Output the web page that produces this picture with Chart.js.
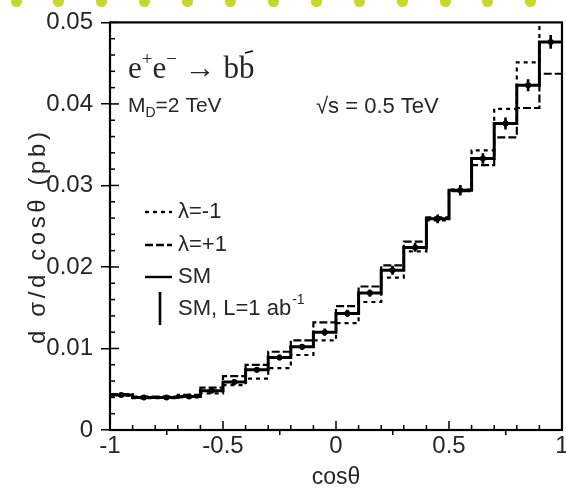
<!DOCTYPE html>
<html>
<head>
<meta charset="utf-8">
<script src="https://cdn.jsdelivr.net/npm/chart.js@4.4.1/dist/chart.umd.min.js"></script>
<style>
html,body{margin:0;padding:0;background:#fff;}
#wrap{position:relative;width:566px;height:491px;overflow:hidden;}
canvas{display:block;}
.dot{position:absolute;width:11px;height:11px;border-radius:50%;background:#c8d72c;top:-4px;}
</style>
</head>
<body>
<div id="wrap"><canvas id="c" width="566" height="491"></canvas></div>
<script>
// ---- data ----
const binEdges = [-1,-0.9,-0.8,-0.7,-0.6,-0.5,-0.4,-0.3,-0.2,-0.1,0,0.1,0.2,0.3,0.4,0.5,0.6,0.7,0.8,0.9,1];
const smValues = [0.0043,0.0040,0.0040,0.0041,0.0048,0.0059,0.0074,0.0089,0.0102,0.0120,0.0143,0.0168,0.0196,0.0224,0.0259,0.0294,0.0333,0.0376,0.0423,0.0476];
const lamPlusValues = [0.0044,0.0041,0.0041,0.0043,0.0052,0.0066,0.0080,0.0096,0.0110,0.0132,0.0152,0.0176,0.0202,0.0231,0.0261,0.0293,0.0325,0.0359,0.0395,0.0437];
const lamMinusValues = [0.0042,0.0039,0.0039,0.0040,0.0045,0.0055,0.0063,0.0076,0.0092,0.0110,0.0131,0.0157,0.0187,0.0219,0.0257,0.0295,0.0343,0.0394,0.0451,0.0520];
const smErrors = [0.0002,0.0002,0.0002,0.0002,0.0002,0.0003,0.0003,0.0003,0.0003,0.0004,0.0004,0.0004,0.0005,0.0005,0.0005,0.0006,0.0006,0.0007,0.0007,0.0008];
const xTickValues = [-1,-0.5,0,0.5,1];
const xTickLabels = ['-1','-0.5','0','0.5','1'];
const yTickValues = [0,0.01,0.02,0.03,0.04,0.05];
const yTickLabels = ['0','0.01','0.02','0.03','0.04','0.05'];
const seriesNames = ['\u03bb=-1','\u03bb=+1','SM','SM, L=1 ab'];
const yTitle = 'd \u03c3/d cos\u03b8 (pb)';
const xTitle = 'cos\u03b8';

// decorative dots at the top
const wrap = document.getElementById('wrap');
for (let k = 0; k < 13; k++) {
  const d = document.createElement('div');
  d.className = 'dot';
  d.style.left = (16 + 42.9 * k - 5.5) + 'px';
  wrap.appendChild(d);
}

function stepData(vals) {
  return binEdges.map((x, i) => ({x: x, y: vals[Math.min(i, vals.length - 1)]}));
}
const centers = smValues.map((v, i) => (binEdges[i] + binEdges[i + 1]) / 2);

const FONT = '"Liberation Sans", Arial, sans-serif';
const TXT = '#262626';

const framePlugin = {
  id: 'frame',
  afterDatasetsDraw(chart) {
    const {ctx, chartArea: a, scales} = chart;
    ctx.save();
    ctx.strokeStyle = '#000';
    ctx.lineWidth = 2.2;
    ctx.strokeRect(a.left, a.top, a.right - a.left, a.bottom - a.top);
    ctx.lineWidth = 1.5;
    const ys = scales.y;
    for (let i = 0; i <= 25; i++) {
      const p = ys.getPixelForValue(i * 0.002);
      const len = (i % 5 === 0) ? 9 : 5;
      ctx.beginPath(); ctx.moveTo(a.left, p); ctx.lineTo(a.left + len, p); ctx.stroke();
    }
    const xs = scales.x;
    for (let i = 0; i <= 20; i++) {
      const p = xs.getPixelForValue(-1 + i * 0.1);
      const len = (i % 5 === 0) ? 9 : 5;
      ctx.beginPath(); ctx.moveTo(p, a.bottom); ctx.lineTo(p, a.bottom - len); ctx.stroke();
    }
    ctx.restore();
  }
};

const annotPlugin = {
  id: 'annot',
  afterDraw(chart) {
    const ctx = chart.ctx;
    ctx.save();
    ctx.fillStyle = TXT;
    ctx.strokeStyle = '#000';
    ctx.textBaseline = 'alphabetic';
    ctx.textAlign = 'left';
    let x = 128, y = 78;
    const big = '31px "Liberation Serif", serif';
    const sup = '19px "Liberation Serif", serif';
    function put(t, f, dy) { ctx.font = f; ctx.fillText(t, x, y + dy); x += ctx.measureText(t).width; }
    put('e', big, 0); put('+', sup, -13); put('e', big, 0); put('\u2212', sup, -13);
    put(' \u2192 ', big, 0); put('b', big, 0);
    const bx = x; put('b', big, 0);
    ctx.lineWidth = 1.6;
    ctx.beginPath(); ctx.moveTo(bx + 6, y - 25); ctx.lineTo(bx + 14, y - 27); ctx.stroke();

    x = 128; y = 112;
    put('M', '21px ' + FONT, 0); put('D', '14px ' + FONT, 5); put('=2 TeV', '21px ' + FONT, 0);
    x = 316; y = 113;
    put('\u221as = 0.5 TeV', '22px ' + FONT, 0);

    ctx.lineWidth = 2.4;
    const lx0 = 145, lx1 = 172;
    const rows = [212, 245, 277];
    const dashes = [[4, 4], [8, 3], []];
    for (let r = 0; r < 3; r++) {
      ctx.setLineDash(dashes[r]);
      ctx.beginPath(); ctx.moveTo(lx0, rows[r]); ctx.lineTo(lx1, rows[r]); ctx.stroke();
    }
    ctx.setLineDash([]);
    ctx.lineWidth = 2.6;
    ctx.beginPath(); ctx.moveTo(160, 292); ctx.lineTo(160, 325); ctx.stroke();
    ctx.textBaseline = 'middle';
    ctx.font = '22px ' + FONT;
    ctx.fillText(seriesNames[0], 178, rows[0]);
    ctx.fillText(seriesNames[1], 178, rows[1]);
    ctx.fillText(seriesNames[2], 178, rows[2]);
    ctx.fillText(seriesNames[3], 178, 309);
    const w = ctx.measureText(seriesNames[3]).width;
    ctx.font = '14px ' + FONT;
    ctx.fillText('-1', 178 + w + 1, 300);

    // y-axis title
    ctx.translate(38, 238);
    ctx.rotate(-Math.PI / 2);
    ctx.font = '24px ' + FONT;
    const plain = ctx.measureText(yTitle).width;
    const sp = Math.max(0, (212 - plain) / (yTitle.length - 1));
    ctx.letterSpacing = sp.toFixed(2) + 'px';
    const wt = ctx.measureText(yTitle).width;
    ctx.textAlign = 'left';
    ctx.textBaseline = 'middle';
    ctx.fillText(yTitle, -wt / 2 + sp / 2, 0);
    ctx.restore();
  }
};

new Chart(document.getElementById('c'), {
  type: 'scatter',
  data: {
    datasets: [
      {
        type: 'bar', label: 'err',
        data: centers.map((c, i) => ({x: c, y: [smValues[i] - smErrors[i], smValues[i] + smErrors[i]]})),
        backgroundColor: '#000', borderWidth: 0, barThickness: 2, order: 0
      },
      {
        type: 'scatter', label: 'SM points',
        data: centers.map((c, i) => ({x: c, y: smValues[i]})),
        pointRadius: 3, pointBackgroundColor: '#000', pointBorderColor: '#000', pointBorderWidth: 0, order: 1
      },
      {
        type: 'line', label: seriesNames[2], data: stepData(smValues), stepped: 'before',
        borderColor: '#000', borderWidth: 3, pointRadius: 0, fill: false, order: 2
      },
      {
        type: 'line', label: seriesNames[1], data: stepData(lamPlusValues), stepped: 'before',
        borderColor: '#000', borderWidth: 2.2, borderDash: [8, 3], pointRadius: 0, fill: false, order: 3
      },
      {
        type: 'line', label: seriesNames[0], data: stepData(lamMinusValues), stepped: 'before',
        borderColor: '#000', borderWidth: 2.2, borderDash: [4, 4], pointRadius: 0, fill: false, order: 4
      }
    ]
  },
  options: {
    responsive: false,
    animation: false,
    devicePixelRatio: 1,
    layout: {padding: {left: 0, right: 3, top: 22, bottom: 0}},
    plugins: {legend: {display: false}, tooltip: {enabled: false}},
    scales: {
      x: {
        type: 'linear', min: -1, max: 1, offset: false,
        afterBuildTicks: (s) => { s.ticks = xTickValues.map(v => ({value: v})); },
        afterFit: (s) => { s.height = 61; s.paddingLeft = 0; s.paddingRight = 0; },
        ticks: {
          callback: (v) => { const i = xTickValues.indexOf(v); return i >= 0 ? xTickLabels[i] : ''; },
          font: {family: FONT, size: 24, lineHeight: 1}, color: TXT, padding: -1, maxRotation: 0, autoSkip: false
        },
        grid: {drawOnChartArea: false, drawTicks: true, tickLength: 5, color: '#000', lineWidth: 1.5},
        border: {display: false},
        title: {display: true, text: xTitle, font: {family: FONT, size: 23}, color: TXT, padding: {top: 0, bottom: 0}}
      },
      y: {
        type: 'linear', min: 0, max: 0.05,
        afterBuildTicks: (s) => { s.ticks = yTickValues.map(v => ({value: v})); },
        afterFit: (s) => { s.width = 110; },
        ticks: {
          callback: (v) => { const i = yTickValues.findIndex(t => Math.abs(t - v) < 1e-9); return i >= 0 ? yTickLabels[i] : ''; },
          font: {family: FONT, size: 24}, color: TXT, padding: 8, autoSkip: false
        },
        grid: {drawOnChartArea: false, drawTicks: true, tickLength: 9, color: '#000', lineWidth: 1.5},
        border: {display: false},
        title: {display: false}
      }
    }
  },
  plugins: [framePlugin, annotPlugin]
});
</script>
</body>
</html>
